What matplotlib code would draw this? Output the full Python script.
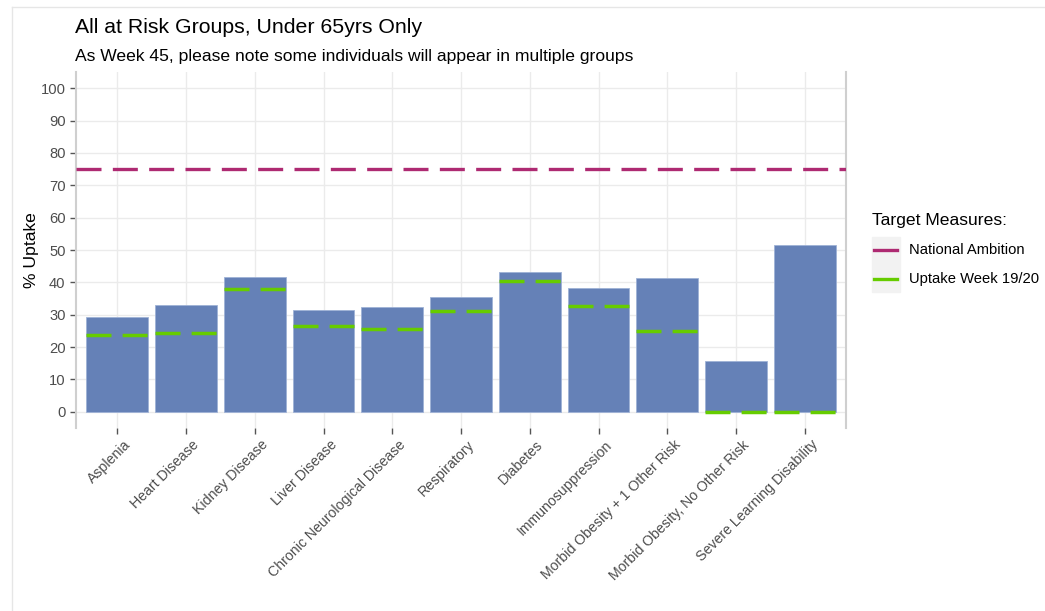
import matplotlib
matplotlib.use("Agg")
import matplotlib.pyplot as plt
from matplotlib.lines import Line2D
from matplotlib.patches import Rectangle
from matplotlib.transforms import ScaledTranslation
import numpy as np

plt.rcParams['font.family'] = ['Liberation Sans', 'DejaVu Sans']

categories = ["Asplenia", "Heart Disease", "Kidney Disease", "Liver Disease",
              "Chronic Neurological Disease", "Respiratory", "Diabetes",
              "Immunosuppression", "Morbid Obesity + 1 Other Risk",
              "Morbid Obesity, No Other Risk", "Severe Learning Disability"]
uptake_now = [29.2, 32.9, 41.6, 31.5, 32.3, 35.6, 43.2, 38.2, 41.3, 15.6, 51.5]
uptake_week19 = [23.7, 24.5, 38.0, 26.4, 25.6, 31.3, 40.4, 32.8, 24.9, 0, 0]
national_ambition = 75
y_ticks = list(range(0, 101, 10))

bar_color = "#6581B7"
red = "#AE2A72"
green = "#66CC00"
grid_c = "#EBEBEB"
text_c = "#4D4D4D"

W, H = 1045, 611
fig = plt.figure(figsize=(W / 100, H / 100), dpi=100)
ax = fig.add_axes([76 / W, 1 - 428 / H, (846 - 76) / W, (428 - 72) / H])

x = np.arange(len(categories))
bw = 0.9
ax.bar(x, uptake_now, width=bw, color=bar_color, edgecolor="#9FB2D6",
       linewidth=0.6, zorder=2)

ax.axhline(national_ambition, color=red, lw=2.4, dashes=(7.5, 3.4),
           dash_capstyle='butt', zorder=3)
for xi, v in zip(x, uptake_week19):
    ax.plot([xi - bw / 2, xi + bw / 2], [v, v], color=green, lw=2.5,
            dashes=(7.2, 3.2), dash_capstyle='butt', zorder=3,
            solid_capstyle='butt', clip_on=False)

ax.set_xlim(-0.6, len(categories) - 0.4)
ax.set_ylim(-5, 105)
ax.set_yticks(y_ticks)
ax.set_yticklabels([str(t) for t in y_ticks])
ax.set_xticks(x)
ax.set_xticklabels(categories, rotation=45, ha='right', va='top',
                   rotation_mode='anchor')
ax.grid(True, color=grid_c, lw=1.0, zorder=0)
ax.set_axisbelow(True)
ax.tick_params(axis='both', colors="#555555", labelcolor=text_c,
               labelsize=10.6, length=4, width=1)
ax.tick_params(axis='x', labelsize=10.2, pad=3)
offset = ScaledTranslation(6 / 100, 0, fig.dpi_scale_trans)
for lab in ax.get_xticklabels():
    lab.set_transform(lab.get_transform() + offset)
for s in ['top', 'bottom']:
    ax.spines[s].set_visible(False)
for s in ['left', 'right']:
    ax.spines[s].set_color("#CFCFCF")
    ax.spines[s].set_linewidth(1.5)
ax.set_ylabel("% Uptake", fontsize=12.6, color="black", labelpad=1)

fig.text(75 / W, 1 - 33 / H, "All at Risk Groups, Under 65yrs Only",
         fontsize=15.3, color="black", va='baseline', ha='left')
fig.text(75 / W, 1 - 61 / H,
         "As Week 45, please note some individuals will appear in multiple groups",
         fontsize=12.6, color="black", va='baseline', ha='left')

# legend
fig.text(872 / W, 1 - 221 / H, "Target Measures:", fontsize=12.6,
         color="black", va='center', ha='left')
fig.patches.append(Rectangle((872 / W, 1 - 292 / H), 28 / W, 55 / H,
                             transform=fig.transFigure, color="#F2F2F2",
                             zorder=0))
legend_labels = ["National Ambition", "Uptake Week 19/20"]
legend_colors = [red, green]
for i, (lab, c) in enumerate(zip(legend_labels, legend_colors)):
    yy = 1 - (250 + 28.5 * i) / H
    fig.add_artist(Line2D([874 / W, 897 / W], [yy, yy], color=c, lw=2.4,
                          transform=fig.transFigure))
    fig.text(909 / W, yy, lab, fontsize=10.6, color="black", va='center',
             ha='left')

# outer frame (left and top)
fig.add_artist(Line2D([12 / W, 12 / W], [0, 1 - 7 / H], color="#E6E6E6",
                      lw=1, transform=fig.transFigure))
fig.add_artist(Line2D([12 / W, 1], [1 - 7 / H, 1 - 7 / H], color="#E6E6E6",
                      lw=1, transform=fig.transFigure))

fig.savefig("out.png", dpi=100)
